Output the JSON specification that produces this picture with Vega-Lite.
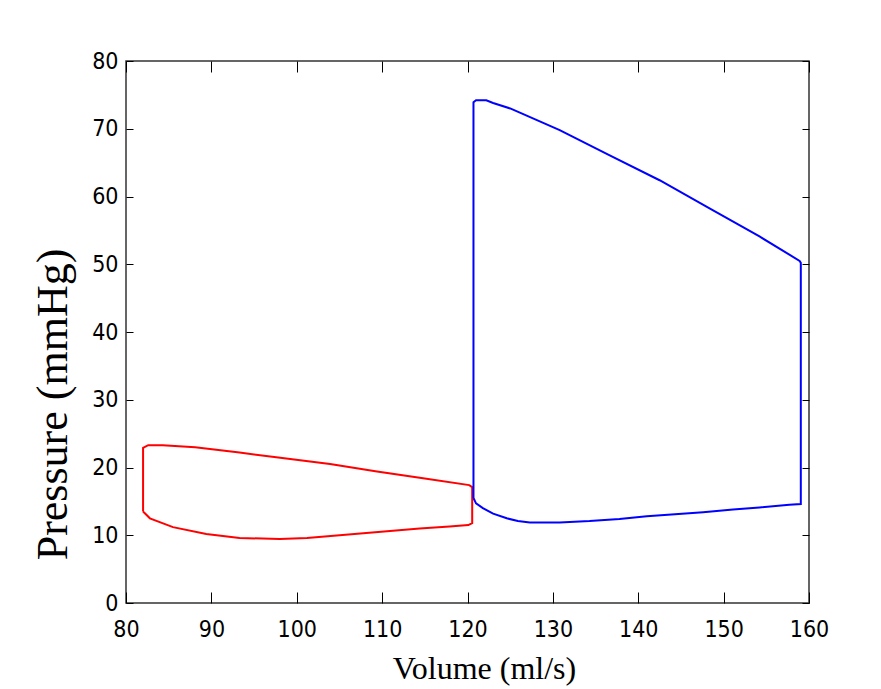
{
  "$schema": "https://vega.github.io/schema/vega-lite/v6.json",
  "width": 683,
  "height": 542,
  "autosize": {"type": "none"},
  "padding": {"left": 126, "top": 61, "right": 72, "bottom": 86},
  "background": "white",
  "config": {
    "view": {"stroke": "#333333", "strokeWidth": 1.5},
    "axis": {
      "grid": false,
      "domain": false,
      "tickColor": "black",
      "tickWidth": 1,
      "labelColor": "black",
      "labelFont": "DejaVu Sans Condensed",
      "labelFontSize": 23,
      "labelFlush": false,
      "labelOverlap": false,
      "titleColor": "black",
      "titleFont": "Liberation Serif",
      "titleFontWeight": "normal"
    }
  },
  "data": {
    "values": [
      {"loop": "red", "i": 1, "v": 82.0, "p": 13.5},
      {"loop": "red", "i": 2, "v": 82.0, "p": 22.9},
      {"loop": "red", "i": 3, "v": 82.6, "p": 23.3},
      {"loop": "red", "i": 4, "v": 84.3, "p": 23.3},
      {"loop": "red", "i": 5, "v": 88.1, "p": 23.0},
      {"loop": "red", "i": 6, "v": 93.3, "p": 22.2},
      {"loop": "red", "i": 7, "v": 97.6, "p": 21.5},
      {"loop": "red", "i": 8, "v": 103.9, "p": 20.5},
      {"loop": "red", "i": 9, "v": 109.4, "p": 19.4},
      {"loop": "red", "i": 10, "v": 114.8, "p": 18.4},
      {"loop": "red", "i": 11, "v": 120.2, "p": 17.4},
      {"loop": "red", "i": 12, "v": 120.55, "p": 17.1},
      {"loop": "red", "i": 13, "v": 120.55, "p": 11.8},
      {"loop": "red", "i": 14, "v": 120.1, "p": 11.5},
      {"loop": "red", "i": 15, "v": 117.9, "p": 11.3},
      {"loop": "red", "i": 16, "v": 114.4, "p": 11.0},
      {"loop": "red", "i": 17, "v": 107.8, "p": 10.3},
      {"loop": "red", "i": 18, "v": 101.2, "p": 9.6},
      {"loop": "red", "i": 19, "v": 98.0, "p": 9.45},
      {"loop": "red", "i": 20, "v": 93.3, "p": 9.6},
      {"loop": "red", "i": 21, "v": 89.4, "p": 10.2},
      {"loop": "red", "i": 22, "v": 85.5, "p": 11.2},
      {"loop": "red", "i": 23, "v": 82.8, "p": 12.5},
      {"loop": "red", "i": 24, "v": 82.0, "p": 13.5},
      {"loop": "blue", "i": 1, "v": 120.7, "p": 15.5},
      {"loop": "blue", "i": 2, "v": 120.7, "p": 73.9},
      {"loop": "blue", "i": 3, "v": 121.0, "p": 74.2},
      {"loop": "blue", "i": 4, "v": 122.2, "p": 74.2},
      {"loop": "blue", "i": 5, "v": 123.0, "p": 73.8},
      {"loop": "blue", "i": 6, "v": 125.0, "p": 73.0},
      {"loop": "blue", "i": 7, "v": 130.8, "p": 69.8},
      {"loop": "blue", "i": 8, "v": 136.6, "p": 66.1},
      {"loop": "blue", "i": 9, "v": 142.5, "p": 62.4},
      {"loop": "blue", "i": 10, "v": 148.3, "p": 58.3},
      {"loop": "blue", "i": 11, "v": 154.2, "p": 54.1},
      {"loop": "blue", "i": 12, "v": 158.9, "p": 50.5},
      {"loop": "blue", "i": 13, "v": 159.04, "p": 50.2},
      {"loop": "blue", "i": 14, "v": 159.04, "p": 14.6},
      {"loop": "blue", "i": 15, "v": 157.7, "p": 14.5},
      {"loop": "blue", "i": 16, "v": 154.2, "p": 14.1},
      {"loop": "blue", "i": 17, "v": 151.1, "p": 13.8},
      {"loop": "blue", "i": 18, "v": 147.6, "p": 13.4},
      {"loop": "blue", "i": 19, "v": 144.3, "p": 13.1},
      {"loop": "blue", "i": 20, "v": 141.0, "p": 12.8},
      {"loop": "blue", "i": 21, "v": 137.8, "p": 12.4},
      {"loop": "blue", "i": 22, "v": 134.3, "p": 12.1},
      {"loop": "blue", "i": 23, "v": 130.8, "p": 11.9},
      {"loop": "blue", "i": 24, "v": 127.3, "p": 11.9},
      {"loop": "blue", "i": 25, "v": 125.9, "p": 12.1},
      {"loop": "blue", "i": 26, "v": 124.6, "p": 12.5},
      {"loop": "blue", "i": 27, "v": 123.0, "p": 13.2},
      {"loop": "blue", "i": 28, "v": 121.8, "p": 14.0},
      {"loop": "blue", "i": 29, "v": 121.0, "p": 14.7},
      {"loop": "blue", "i": 30, "v": 120.7, "p": 15.5}
    ]
  },
  "layer": [
    {
      "transform": [{"filter": "datum.loop == 'red'"}],
      "mark": {"type": "line", "color": "#ff0000", "strokeWidth": 2},
      "encoding": {
        "x": {
          "field": "v", "type": "quantitative",
          "scale": {"domain": [80, 160], "nice": false, "zero": false},
          "axis": {
            "orient": "bottom",
            "values": [80, 90, 100, 110, 120, 130, 140, 150, 160],
            "offset": -11,
            "tickSize": 11,
            "labelPadding": 15,
            "title": "Volume (ml/s)",
            "titleFontSize": 32,
            "titleX": 358,
            "titleY": 86,
            "titleBaseline": "alphabetic",
            "titleAlign": "center"
          }
        },
        "y": {
          "field": "p", "type": "quantitative",
          "scale": {"domain": [0, 80], "nice": false, "zero": false},
          "axis": {
            "orient": "left",
            "values": [0, 10, 20, 30, 40, 50, 60, 70, 80],
            "offset": -7,
            "tickSize": 7,
            "labelPadding": 8,
            "title": "Pressure (mmHg)",
            "titleFontSize": 44,
            "titleAngle": -90,
            "titleX": -67,
            "titleY": 343,
            "titleBaseline": "alphabetic",
            "titleAlign": "center"
          }
        },
        "order": {"field": "i", "type": "quantitative"}
      }
    },
    {
      "transform": [{"filter": "datum.loop == 'blue'"}],
      "mark": {"type": "line", "color": "#0000ff", "strokeWidth": 2},
      "encoding": {
        "x": {
          "field": "v", "type": "quantitative",
          "scale": {"domain": [80, 160], "nice": false, "zero": false},
          "axis": {
            "orient": "top",
            "values": [80, 90, 100, 110, 120, 130, 140, 150, 160],
            "offset": -11,
            "tickSize": 11,
            "labels": false,
            "title": null
          }
        },
        "y": {
          "field": "p", "type": "quantitative",
          "scale": {"domain": [0, 80], "nice": false, "zero": false},
          "axis": {
            "orient": "right",
            "values": [0, 10, 20, 30, 40, 50, 60, 70, 80],
            "offset": -7,
            "tickSize": 7,
            "labels": false,
            "title": null
          }
        },
        "order": {"field": "i", "type": "quantitative"}
      }
    }
  ],
  "resolve": {"scale": {"x": "independent", "y": "independent"}, "axis": {"x": "independent", "y": "independent"}}
}
